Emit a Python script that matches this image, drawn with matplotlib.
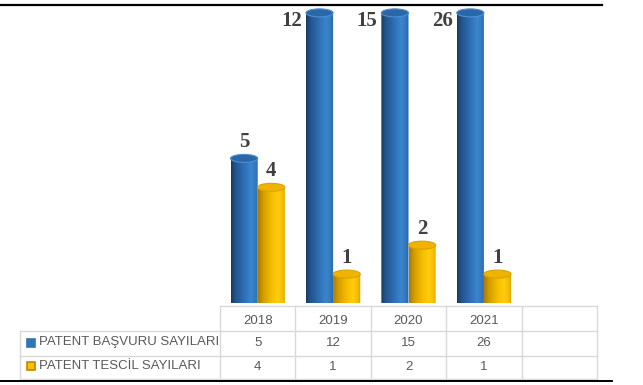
import numpy as np
import matplotlib
matplotlib.use('Agg')
import matplotlib.pyplot as plt
from matplotlib.patches import Ellipse, PathPatch, Rectangle
from matplotlib.path import Path
from matplotlib.colors import LinearSegmentedColormap
from matplotlib.lines import Line2D

# ---- data ----
years = ['2018', '2019', '2020', '2021']
series_names = ['PATENT BAŞVURU SAYILARI', 'PATENT TESCİL SAYILARI']
basvuru = [5, 12, 15, 26]
tescil = [4, 1, 2, 1]

W, H = 643, 385
fig = plt.figure(figsize=(W / 100, H / 100), dpi=100)
ax_left, ax_right, ax_top, ax_bot = 220, 597, 8, 303
ax = fig.add_axes([ax_left / W, 1 - ax_bot / H, (ax_right - ax_left) / W, (ax_bot - ax_top) / H])
ncols = 5
ymax = 10.2
ax.set_xlim(-0.5, ncols - 0.5)
ax.set_ylim(0, ymax)
ax.axis('off')

px_x = (ax_right - ax_left) / ncols          # pixels per x unit
px_y = (ax_bot - ax_top) / ymax              # pixels per y unit
cap_h = 8 / px_y

blue_cmap = LinearSegmentedColormap.from_list('b', [
    (0.0, '#173a61'), (0.15, '#22538a'), (0.5, '#2f72b8'),
    (0.72, '#3b86cf'), (0.9, '#3276bb'), (1.0, '#25609c')])
yel_cmap = LinearSegmentedColormap.from_list('y', [
    (0.0, '#a87a00'), (0.18, '#d29c00'), (0.5, '#f7bf00'),
    (0.72, '#ffcc10'), (0.9, '#f4bb00'), (1.0, '#cf9a00')])

def cylinder(xc, w, h, cmap, capface, capedge):
    x0 = xc - w / 2
    t = np.linspace(np.pi, 2 * np.pi, 40)
    bx = xc + (w / 2) * np.cos(t)
    by = (cap_h / 2) * np.sin(t)
    verts = [(x0, h)] + list(zip(bx, by)) + [(x0 + w, h), (x0, h)]
    codes = [Path.MOVETO] + [Path.LINETO] * (len(verts) - 2) + [Path.CLOSEPOLY]
    patch = PathPatch(Path(verts, codes), transform=ax.transData,
                      facecolor='none', edgecolor='none')
    ax.add_patch(patch)
    grad = np.linspace(0, 1, 256).reshape(1, -1)
    im = ax.imshow(grad, cmap=cmap, extent=[x0, x0 + w, -cap_h, h],
                   aspect='auto', origin='lower', interpolation='bilinear', zorder=2)
    im.set_clip_path(patch)
    im.set_clip_box(None)
    top = Ellipse((xc, h), w, cap_h, facecolor=capface, edgecolor=capedge,
                  lw=0.8, zorder=3, clip_on=False)
    ax.add_patch(top)

bw = 0.36
label_kw = dict(fontfamily='Liberation Serif', fontweight='bold', fontsize=15,
                color='#404040', zorder=5)
hmax = ymax - cap_h / 2 - 0.03
series = [(basvuru, -bw / 2, blue_cmap, '#2a67a8', '#4d8fd0'),
          (tescil, bw / 2, yel_cmap, '#f0b400', '#d9a300')]
for vals, off, cmap, cf, ce in series:
    for i, v in enumerate(vals):
        xc = i + off
        h = min(v, hmax)
        cylinder(xc, bw, h, cmap, cf, ce)
        if v <= hmax:
            ax.text(xc, h + 16 / px_y, str(v), ha='center', va='center', **label_kw)
        else:
            ax.text(xc - bw / 2 - 4 / px_x, ymax - 13 / px_y, str(v),
                    ha='right', va='center', **label_kw)

ax.set_xlim(-0.5, ncols - 0.5)
ax.set_ylim(0, ymax)

# ---- data table ----
tr = ax.get_xaxis_transform()
def ya(py):
    return (ax_bot - py) / (ax_bot - ax_top)
def xd(px):
    return -0.5 + (px - ax_left) / px_x

grid_c = '#d9d9d9'
t_top, r1, r2, t_bot = 306, 331, 356, 379
left_x = xd(20)
lk = dict(color=grid_c, lw=1.0, transform=tr, clip_on=False, zorder=1)
ax.add_line(Line2D([-0.5, ncols - 0.5], [ya(t_top)] * 2, **lk))
for py in (r1, r2, t_bot):
    ax.add_line(Line2D([left_x, ncols - 0.5], [ya(py)] * 2, **lk))
for k in range(ncols + 1):
    ax.add_line(Line2D([k - 0.5] * 2, [ya(t_top), ya(t_bot)], **lk))
ax.add_line(Line2D([left_x] * 2, [ya(r1), ya(t_bot)], **lk))

tkw = dict(fontfamily=['Liberation Sans', 'DejaVu Sans'],
           fontsize=9.5, color='#595959', transform=tr, clip_on=False,
           va='center')
for i, yr in enumerate(years):
    ax.text(i, ya(321.5), yr, ha='center', **tkw)
for i, v in enumerate(basvuru):
    ax.text(i, ya(343.5), str(v), ha='center', **tkw)
for i, v in enumerate(tescil):
    ax.text(i, ya(367.5), str(v), ha='center', **tkw)

key_cols = [('#2e75b6', '#2e75b6'), ('#ffc000', '#b8860b')]
for r, (name, (fc, ec)) in enumerate(zip(series_names, key_cols)):
    cy = [342.5, 366][r]
    ax.add_patch(Rectangle((xd(27), ya(cy + 4)), 8 / px_x, 8 / (ax_bot - ax_top),
                           facecolor=fc, edgecolor=ec, lw=1.2, transform=tr, clip_on=False))
    ax.text(xd(39), ya(cy), name, ha='left', **tkw)

# ---- page border lines ----
fig.add_artist(Line2D([0, 602 / W], [1 - 5 / H] * 2, color='black', lw=1.6,
                      transform=fig.transFigure))
fig.add_artist(Line2D([0, 612 / W], [1 - 381 / H] * 2, color='black', lw=1.4,
                      transform=fig.transFigure))

fig.savefig('out.png', dpi=100)
